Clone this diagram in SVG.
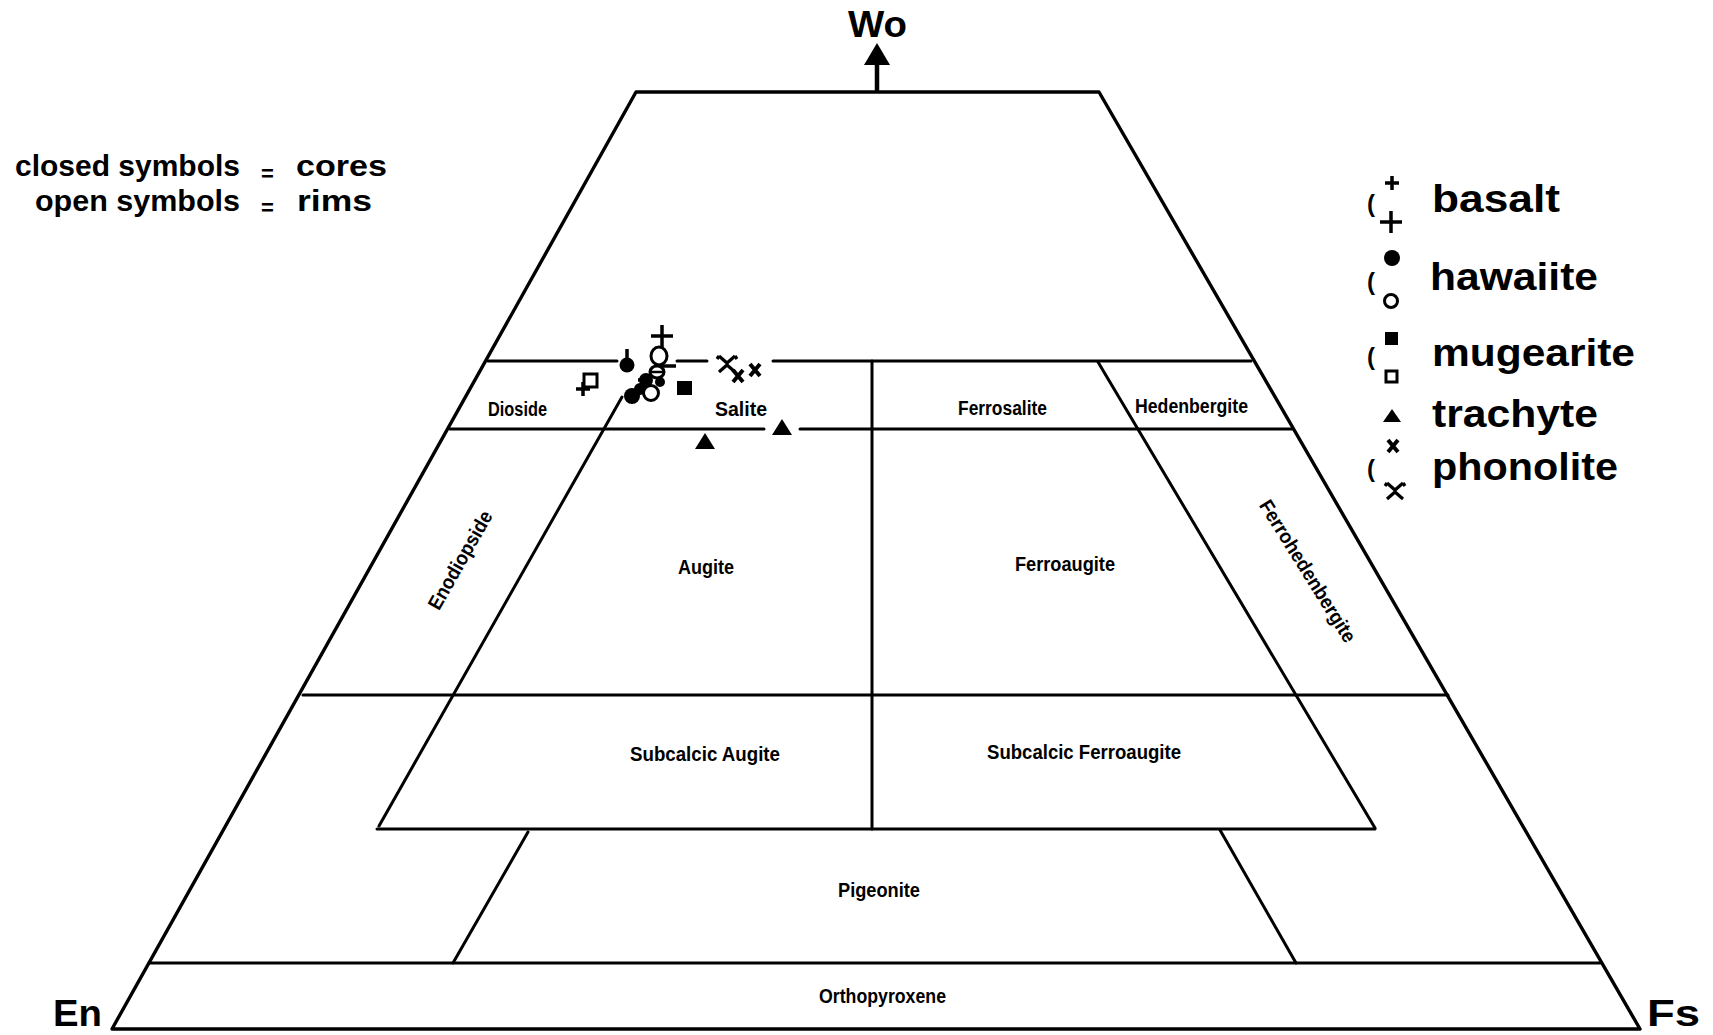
<svg xmlns="http://www.w3.org/2000/svg" xmlns:xlink="http://www.w3.org/1999/xlink" width="1713" height="1035" viewBox="0 0 1713 1035">
<style>
.ln{stroke:#000;stroke-width:3;fill:none;stroke-linecap:round;stroke-linejoin:round}
.edge{stroke:#000;stroke-width:3.4;fill:none;stroke-linecap:round;stroke-linejoin:round}
.lbl{font-family:"Liberation Sans",Arial,sans-serif;font-weight:bold;font-size:20px;fill:#000}
.leg{font-family:"Liberation Sans",Arial,sans-serif;font-weight:bold;font-size:38px;fill:#000}
.note{font-family:"Liberation Sans",Arial,sans-serif;font-weight:bold;font-size:29px;fill:#000}
.axis{font-family:"Liberation Sans",Arial,sans-serif;font-weight:bold;font-size:36px;fill:#000}
.par{font-family:"Liberation Sans",Arial,sans-serif;font-weight:bold;font-size:24px;fill:#000}
.blk{fill:#000;stroke:none}
.opn{fill:#fff;stroke:#000;stroke-width:3}
.sym{stroke:#000;stroke-width:3.5;fill:none;stroke-linecap:butt}
</style>
<defs>
<path id="plus" d="M-11,0H11M0,-11V11" class="sym"/>
<path id="plusS" d="M-7,0H7M0,-7V7" class="sym"/>
<path id="xcore" d="M-5,-6L5,6M5,-6L-5,6" style="stroke:#000;stroke-width:4;fill:none"/>
<path id="xrim" d="M-8,-8L0,-1L8,-8M-8,8L0,1L8,8M-8,-8L-10,-5M8,-8L10,-5" style="stroke:#000;stroke-width:3.2;fill:none;stroke-linejoin:miter"/>
<path id="tri" d="M0,-8L10,8H-10Z" class="blk"/>
</defs>
<rect width="1713" height="1035" fill="#fff"/>

<g id="frame">
<path class="edge" d="M636,92H1099L1640,1029H112Z"/>
</g>

<g id="field-lines">
<path class="ln" d="M488,361H617M677,361H707M773,361H1251"/>
<path class="ln" d="M450,429H764M800,429H1292"/>
<path class="ln" d="M303,695H1448"/>
<path class="ln" d="M377,829H1375"/>
<path class="ln" d="M149,963H1600"/>
<path class="ln" d="M872,361V829"/>
<path class="ln" d="M622,397L379,826"/>
<path class="ln" d="M1098,362L1375,828"/>
<path class="ln" d="M528,832L453,963"/>
<path class="ln" d="M1220,830L1296,963"/>
</g>

<g id="wo-arrow">
<path class="ln" style="stroke-width:4.5" d="M877,62V90"/>
<path class="blk" d="M877,43L890,65H864Z"/>
</g>

<g id="axis-labels">
<text class="axis" x="848" y="37" textLength="59" lengthAdjust="spacingAndGlyphs">Wo</text>
<text class="axis" x="53" y="1026" textLength="49" lengthAdjust="spacingAndGlyphs">En</text>
<text class="axis" x="1647" y="1026" textLength="53" lengthAdjust="spacingAndGlyphs">Fs</text>
</g>

<g id="field-labels">
<text class="lbl" x="488" y="416" textLength="59" lengthAdjust="spacingAndGlyphs">Dioside</text>
<text class="lbl" x="715" y="416" textLength="52" lengthAdjust="spacingAndGlyphs">Salite</text>
<text class="lbl" x="958" y="415" textLength="89" lengthAdjust="spacingAndGlyphs">Ferrosalite</text>
<text class="lbl" x="1135" y="413" textLength="113" lengthAdjust="spacingAndGlyphs">Hedenbergite</text>
<text class="lbl" x="678" y="574" textLength="56" lengthAdjust="spacingAndGlyphs">Augite</text>
<text class="lbl" x="1015" y="571" textLength="100" lengthAdjust="spacingAndGlyphs">Ferroaugite</text>
<text class="lbl" x="630" y="761" textLength="150" lengthAdjust="spacingAndGlyphs">Subcalcic Augite</text>
<text class="lbl" x="987" y="759" textLength="194" lengthAdjust="spacingAndGlyphs">Subcalcic Ferroaugite</text>
<text class="lbl" x="838" y="897" textLength="82" lengthAdjust="spacingAndGlyphs">Pigeonite</text>
<text class="lbl" x="819" y="1003" textLength="127" lengthAdjust="spacingAndGlyphs">Orthopyroxene</text>
<text class="lbl" transform="translate(460,560) rotate(-60.5)" x="-55" y="7" textLength="110" lengthAdjust="spacingAndGlyphs">Enodiopside</text>
<text class="lbl" transform="translate(1308,571) rotate(58)" x="-82" y="7" textLength="164" lengthAdjust="spacingAndGlyphs">Ferrohedenbergite</text>
</g>

<g id="note">
<text class="note" x="15" y="176" textLength="225" lengthAdjust="spacingAndGlyphs">closed symbols</text>
<text class="note" x="261" y="181" style="font-size:22px">=</text>
<text class="note" x="296" y="176" textLength="91" lengthAdjust="spacingAndGlyphs">cores</text>
<text class="note" x="35" y="211" textLength="205" lengthAdjust="spacingAndGlyphs">open symbols</text>
<text class="note" x="261" y="215" style="font-size:22px">=</text>
<text class="note" x="297" y="211" textLength="75" lengthAdjust="spacingAndGlyphs">rims</text>
</g>

<g id="legend">
<g id="leg-basalt">
<text class="par" x="1367" y="212">(</text>
<use xlink:href="#plusS" x="1392" y="183"/>
<use xlink:href="#plus" x="1391" y="222"/>
<text class="leg" x="1432" y="212" textLength="128" lengthAdjust="spacingAndGlyphs">basalt</text>
</g>
<g id="leg-hawaiite">
<text class="par" x="1367" y="290">(</text>
<circle class="blk" cx="1392" cy="258" r="8"/>
<circle class="opn" cx="1391" cy="301" r="6.5"/>
<text class="leg" x="1430" y="290" textLength="168" lengthAdjust="spacingAndGlyphs">hawaiite</text>
</g>
<g id="leg-mugearite">
<text class="par" x="1367" y="365">(</text>
<rect class="blk" x="1385" y="332" width="13" height="13"/>
<rect class="opn" x="1386" y="371" width="11" height="11"/>
<text class="leg" x="1432" y="366" textLength="203" lengthAdjust="spacingAndGlyphs">mugearite</text>
</g>
<g id="leg-trachyte">
<path class="blk" d="M1392,409L1401,422H1383Z"/>
<text class="leg" x="1432" y="427" textLength="166" lengthAdjust="spacingAndGlyphs">trachyte</text>
</g>
<g id="leg-phonolite">
<text class="par" x="1367" y="477">(</text>
<use xlink:href="#xcore" x="1393" y="446"/>
<use xlink:href="#xrim" x="1395" y="491"/>
<text class="leg" x="1432" y="480" textLength="186" lengthAdjust="spacingAndGlyphs">phonolite</text>
</g>
</g>

<g id="data-points">
<use xlink:href="#plus" x="662" y="336"/>
<rect class="opn" x="584" y="374" width="13" height="13"/>
<use xlink:href="#plusS" x="583" y="389"/>
<rect class="blk" x="677" y="381" width="15" height="14"/>
<use xlink:href="#tri" x="782" y="427"/>
<use xlink:href="#tri" x="705" y="441"/>
<use xlink:href="#xrim" x="727" y="364"/>
<use xlink:href="#xcore" x="738" y="376"/>
<use xlink:href="#xcore" x="755" y="370"/>
<path class="sym" d="M627,349V358"/>
<circle class="blk" cx="627" cy="365" r="7.5"/>
<circle class="blk" cx="646" cy="380" r="7"/>
<circle class="blk" cx="640" cy="389" r="6"/>
<circle class="blk" cx="632" cy="396" r="8"/>
<circle class="blk" cx="660" cy="382" r="5"/>
<path class="sym" d="M660,366H676M650,372H664M638,380H652M646,374V388"/>
<ellipse class="opn" cx="659" cy="356" rx="8" ry="9"/>
<ellipse class="opn" cx="657" cy="372" rx="7" ry="6"/>
<path class="sym" style="stroke-width:2.5" d="M651,372H663"/>
<circle class="opn" cx="651" cy="393" r="7.5"/>
</g>
</svg>
